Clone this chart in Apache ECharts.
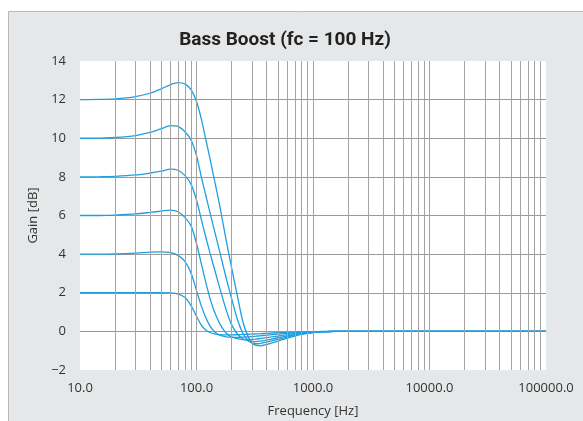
<!DOCTYPE html>
<html>
<head>
<meta charset="utf-8">
<script src="https://cdn.jsdelivr.net/npm/echarts@6/dist/echarts.min.js"></script>
<style>
html,body{margin:0;padding:0;background:#ffffff;}
#chart{width:583px;height:421px;}
</style>
</head>
<body>
<div id="chart"></div>
<script>
// Frequencies [Hz]
var freqs = [10, 15, 20, 30, 40, 50, 60, 70, 80, 90, 100, 110, 120, 130, 140, 150, 160, 180, 200, 225, 250, 275, 300, 325, 350, 400, 500, 600, 700, 800, 1000, 1200, 1500, 2000, 100000];
// Gain curves [dB]
var gain2  = [2.0, 2.0, 2.0, 2.0, 2.0, 2.0, 1.99, 1.93, 1.74, 1.32, 0.78, 0.32, 0.07, -0.06, -0.12, -0.15, -0.17, -0.18, -0.18, -0.17, -0.16, -0.15, -0.14, -0.13, -0.12, -0.1, -0.07, -0.05, -0.035, -0.025, -0.012, -0.005, 0, 0, 0];
var gain4  = [4.0, 4.0, 4.01, 4.05, 4.1, 4.12, 4.08, 3.92, 3.6, 3.0, 2.12, 1.32, 0.72, 0.3, 0.04, -0.12, -0.21, -0.28, -0.3, -0.31, -0.3, -0.29, -0.27, -0.25, -0.23, -0.19, -0.14, -0.1, -0.07, -0.05, -0.025, -0.01, 0, 0, 0];
var gain6  = [6.0, 6.0, 6.02, 6.08, 6.16, 6.23, 6.28, 6.18, 5.88, 5.45, 4.55, 3.5, 2.55, 1.75, 1.15, 0.7, 0.35, -0.1, -0.29, -0.38, -0.42, -0.43, -0.42, -0.4, -0.37, -0.32, -0.24, -0.17, -0.12, -0.085, -0.04, -0.015, 0, 0, 0];
var gain8  = [8.0, 8.01, 8.03, 8.1, 8.2, 8.3, 8.4, 8.33, 8.05, 7.6, 6.8, 5.8, 4.9, 4.1, 3.4, 2.75, 2.15, 1.1, 0.35, -0.15, -0.38, -0.48, -0.52, -0.53, -0.51, -0.45, -0.33, -0.24, -0.17, -0.12, -0.05, -0.02, 0, 0, 0];
var gain10 = [10.0, 10.01, 10.04, 10.14, 10.3, 10.5, 10.65, 10.6, 10.32, 9.9, 9.1, 8.0, 7.05, 6.2, 5.4, 4.7, 4.0, 2.75, 1.7, 0.6, -0.1, -0.45, -0.6, -0.64, -0.63, -0.56, -0.42, -0.3, -0.2, -0.14, -0.06, -0.02, -0.005, 0, 0];
var gain12 = [12.0, 12.01, 12.04, 12.16, 12.33, 12.56, 12.78, 12.88, 12.8, 12.5, 11.9, 11.0, 9.95, 9.0, 8.05, 7.2, 6.35, 4.7, 3.3, 1.8, 0.5, -0.22, -0.6, -0.73, -0.75, -0.68, -0.5, -0.35, -0.24, -0.16, -0.07, -0.025, -0.005, 0, 0];
// Vertical grid line frequencies
var gridFreqs = [20, 30, 40, 50, 60, 70, 80, 90, 100, 200, 300, 400, 500, 600, 700, 800, 900, 1000, 2000, 3000, 4000, 5000, 6000, 7000, 8000, 9000, 10000, 20000, 30000, 40000, 50000, 60000, 70000, 80000, 90000];
var yTicks = [-2, 0, 2, 4, 6, 8, 10, 12, 14];

var curves = [gain2, gain4, gain6, gain8, gain10, gain12];
var lineColor = '#1e9fe0';

function pairs(g) { return freqs.map(function (f, i) { return [f, g[i]]; }); }

var series = [{
  type: 'line',
  data: [],
  z: 1,
  silent: true,
  animation: false,
  markLine: {
    silent: true,
    symbol: ['none', 'none'],
    label: { show: false },
    animation: false,
    lineStyle: { color: '#a3a3a3', width: 1, type: 'solid' },
    emphasis: { disabled: true },
    data: gridFreqs.map(function (f) { return { xAxis: f }; })
  }
}];
curves.forEach(function (g) {
  series.push({
    type: 'line',
    data: pairs(g),
    showSymbol: false,
    smooth: 0.3,
    z: 3,
    animation: false,
    lineStyle: { color: lineColor, width: 1.3 },
    itemStyle: { color: lineColor }
  });
});

var chart = echarts.init(document.getElementById('chart'), null, { renderer: 'canvas' });
chart.setOption({
  animation: false,
  backgroundColor: '#ffffff',
  graphic: [{
    type: 'rect',
    z: -100,
    silent: true,
    shape: { x: 8.5, y: 11.5, width: 600, height: 450 },
    style: { fill: '#e6e7e8', stroke: '#b8b8b8', lineWidth: 1 }
  }],
  title: {
    text: 'Bass Boost (fc = 100 Hz)',
    left: 280,
    textAlign: 'center',
    top: 26,
    textStyle: { fontFamily: 'Roboto', fontWeight: 'bold', fontSize: 19, color: '#222222' }
  },
  grid: {
    left: 80, top: 61, right: 37, bottom: 51,
    outerBoundsMode: 'none',
    containLabel: false,
    show: true, backgroundColor: '#ffffff', borderWidth: 0
  },
  xAxis: {
    type: 'log',
    logBase: 10,
    min: 10,
    max: 100000,
    name: 'Frequency [Hz]',
    nameLocation: 'middle',
    nameGap: 35,
    nameTextStyle: { fontFamily: 'Open Sans', fontSize: 13, color: '#333333' },
    axisLine: { show: false },
    axisTick: { show: false },
    splitLine: { show: false },
    axisLabel: {
      fontFamily: 'Open Sans', fontSize: 13, color: '#333333', margin: 12,
      formatter: function (v) { return Math.round(v).toFixed(1); }
    }
  },
  yAxis: {
    type: 'value',
    min: yTicks[0],
    max: yTicks[yTicks.length - 1],
    interval: 2,
    name: 'Gain [dB]',
    nameLocation: 'middle',
    nameGap: 36,
    nameTextStyle: { fontFamily: 'Open Sans', fontSize: 13, color: '#333333' },
    axisLine: { show: false },
    axisTick: { show: false },
    splitLine: { show: true, showMinLine: false, showMaxLine: false, lineStyle: { color: '#9a9a9a', width: 1 } },
    axisLabel: {
      fontFamily: 'Open Sans', fontSize: 13, color: '#333333', margin: 14,
      formatter: function (v) { return v < 0 ? '\u2212' + Math.abs(v) : String(v); }
    }
  },
  series: series
});
</script>
</body>
</html>
